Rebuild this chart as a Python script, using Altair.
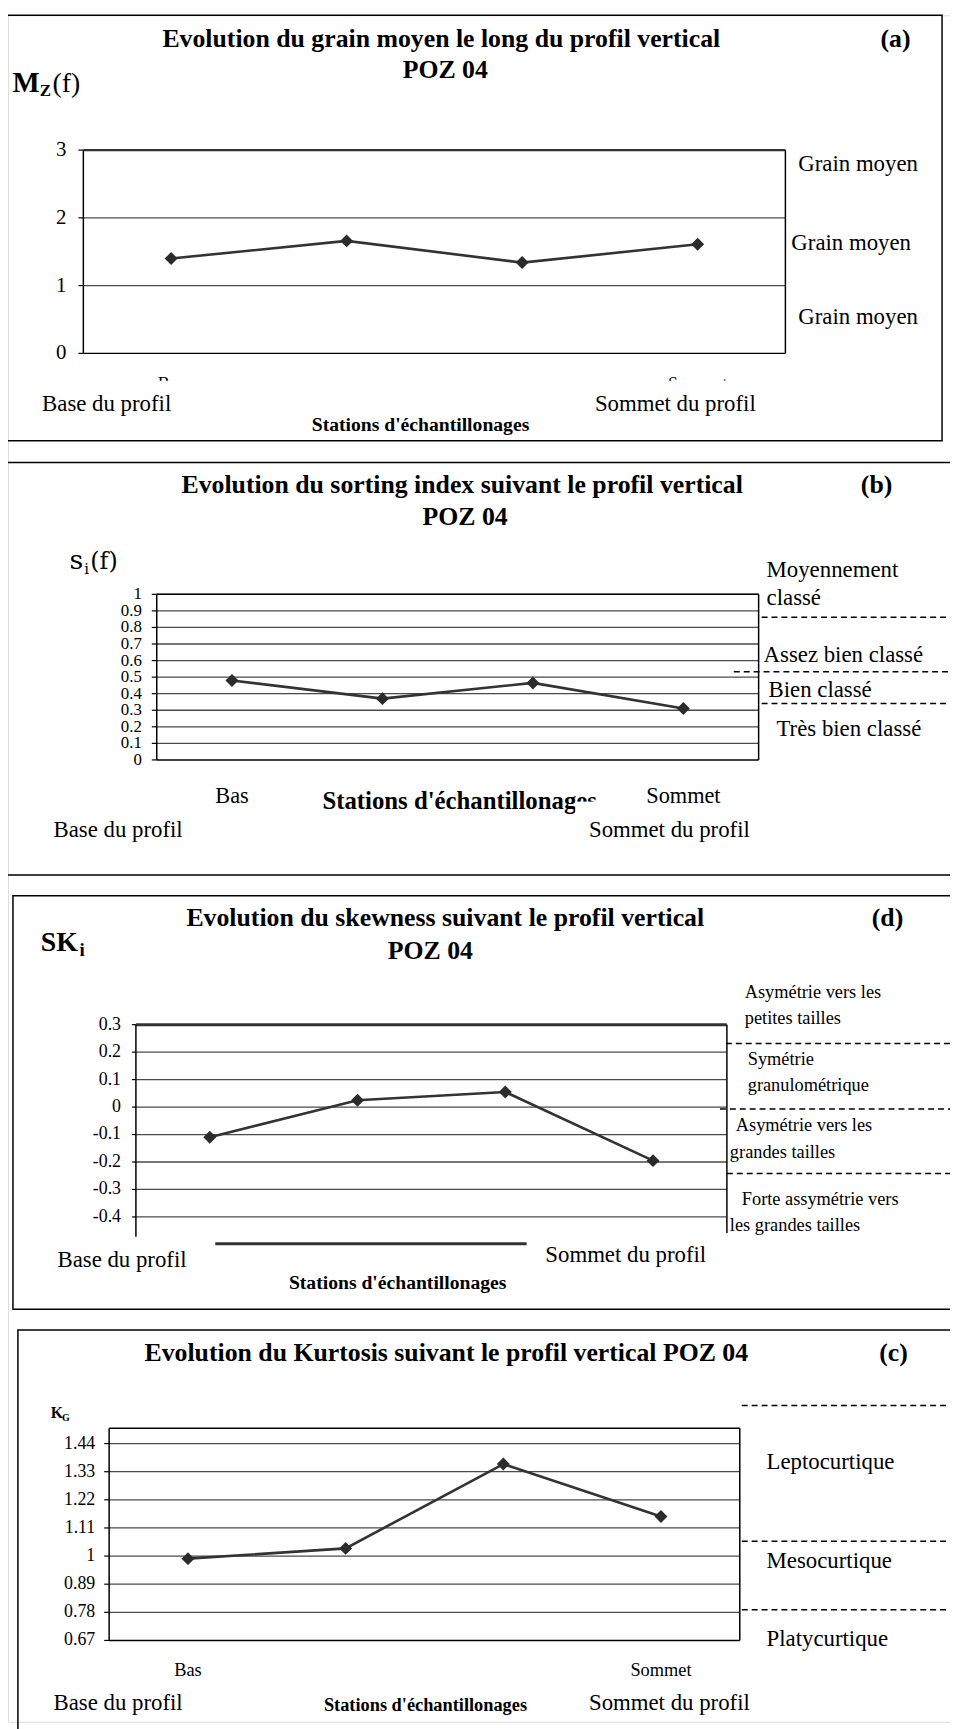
import altair as alt
import pandas as pd

# ---------------- data ----------------
stations = ["Bas", "S2", "S3", "Sommet"]
station_pos = [1, 2, 3, 4]

mz_values = [1.40, 1.66, 1.34, 1.61]          # (a) grain moyen Mz
si_values = [0.48, 0.37, 0.465, 0.31]         # (b) sorting index
sk_values = [-0.11, 0.025, 0.055, -0.195]     # (d) skewness
kg_values = [0.99, 1.03, 1.36, 1.155]         # (c) kurtosis

a_ticks = [0, 1, 2, 3]
a_tick_labels = ["0", "1", "2", "3"]
b_ticks = [0, 0.1, 0.2, 0.3, 0.4, 0.5, 0.6, 0.7, 0.8, 0.9, 1.0]
b_tick_labels = ["0", "0.1", "0.2", "0.3", "0.4", "0.5", "0.6", "0.7", "0.8", "0.9", "1"]
d_ticks = [0.3, 0.2, 0.1, 0, -0.1, -0.2, -0.3, -0.4]
d_tick_labels = ["0.3", "0.2", "0.1", "0", "-0.1", "-0.2", "-0.3", "-0.4"]
c_ticks = [0.67, 0.78, 0.89, 1.0, 1.11, 1.22, 1.33, 1.44]
c_tick_labels = ["0.67", "0.78", "0.89", "1", "1.11", "1.22", "1.33", "1.44"]

# ---------------- helpers ----------------
OX, OY = 8, 8
FONT = "Liberation Serif"
MATH = "DejaVu Serif"
GRID = "#4a4a4a"
T = 26      # panel titles
R = 23      # regular annotation text


def px(x):
    return x - OX


def py(y):
    return y - OY


one = pd.DataFrame({"k": [0]})
layers = []


def text(s, x, y, size, bold=False, align="center", baseline="middle", font=FONT):
    layers.append(
        alt.Chart(one)
        .mark_text(font=font, fontSize=size, fontWeight="bold" if bold else "normal",
                   align=align, baseline=baseline, color="black")
        .encode(x=alt.value(px(x)), y=alt.value(py(y)), text=alt.value(s))
    )


def hline(x1, x2, y, color="black", width=1.5, dash=None):
    kw = dict(color=color, strokeWidth=width)
    if dash:
        kw["strokeDash"] = dash
    layers.append(
        alt.Chart(one).mark_rule(**kw)
        .encode(x=alt.value(px(x1)), x2=alt.value(px(x2)), y=alt.value(py(y)))
    )


def vline(x, y1, y2, color="black", width=1.5):
    layers.append(
        alt.Chart(one).mark_rule(color=color, strokeWidth=width)
        .encode(x=alt.value(px(x)), y=alt.value(py(y1)), y2=alt.value(py(y2)))
    )


def box(x1, y1, x2, y2, fill=None, stroke="black", width=1.5):
    kw = dict(strokeWidth=width)
    if fill:
        kw["fill"] = fill
        kw["strokeWidth"] = 0
    else:
        kw["fillOpacity"] = 0
        kw["stroke"] = stroke
    layers.append(
        alt.Chart(one).mark_rect(**kw)
        .encode(x=alt.value(px(x1)), x2=alt.value(px(x2)),
                y=alt.value(py(y1)), y2=alt.value(py(y2)))
    )


def data_panel(values, domain, xr, yr, ticks, tick_labels, tick_x, tick_size,
               grid_from, tick_len=5, station_y=None, station_size=20):
    xs = alt.Scale(domain=[0.5, 4.5], range=[px(xr[0]), px(xr[1])], nice=False, zero=False)
    ys = alt.Scale(domain=domain, range=[py(yr[0]), py(yr[1])], nice=False, zero=False)
    tdf = pd.DataFrame({"v": ticks, "lab": tick_labels})
    gdf = tdf[[v in grid_from for v in ticks]]
    layers.append(
        alt.Chart(gdf).mark_rule(color=GRID, strokeWidth=1.3)
        .encode(y=alt.Y("v:Q", scale=ys, axis=None),
                x=alt.value(px(xr[0])), x2=alt.value(px(xr[1])))
    )
    layers.append(
        alt.Chart(tdf).mark_rule(color="black", strokeWidth=1.2)
        .encode(y=alt.Y("v:Q", scale=ys, axis=None),
                x=alt.value(px(xr[0] - tick_len)), x2=alt.value(px(xr[0])))
    )
    layers.append(
        alt.Chart(tdf).mark_text(font=FONT, fontSize=tick_size, align="right",
                                 baseline="middle", color="black")
        .encode(y=alt.Y("v:Q", scale=ys, axis=None), x=alt.value(px(tick_x)),
                text="lab:N")
    )
    df = pd.DataFrame({"pos": station_pos, "station": stations, "val": values})
    layers.append(
        alt.Chart(df).mark_line(color="#333333", strokeWidth=2.6)
        .encode(x=alt.X("pos:Q", scale=xs, axis=None),
                y=alt.Y("val:Q", scale=ys, axis=None), order="pos:Q")
    )
    layers.append(
        alt.Chart(df).mark_point(shape="diamond", filled=True, size=170,
                                 color="#2b2b2b", opacity=1)
        .encode(x=alt.X("pos:Q", scale=xs, axis=None),
                y=alt.Y("val:Q", scale=ys, axis=None))
    )
    if station_y is not None:
        ends = df[df["station"].isin(["Bas", "Sommet"])]
        layers.append(
            alt.Chart(ends).mark_text(font=FONT, fontSize=station_size,
                                      align="center", baseline="middle", color="black")
            .encode(x=alt.X("pos:Q", scale=xs, axis=None), y=alt.value(py(station_y)),
                    text="station:N")
        )


# ================= Panel (a) =================
box(7, 8, 950, 437)
text("Evolution du grain moyen le long du profil vertical", 445, 32, T, bold=True)
text("POZ 04", 449, 63, T, bold=True)
text("(a)", 903, 32, T, bold=True)
text("M", 12.5, 85, 29, bold=True, align="left", baseline="alphabetic")
text("Z", 40, 89.5, 17, bold=True, align="left", baseline="alphabetic")
text("(f)", 53, 85, 28, align="left", baseline="alphabetic")
data_panel(mz_values, [0, 3], (84, 792), (349, 144), a_ticks, a_tick_labels,
           67, 21, grid_from=[1, 2], station_y=381, station_size=18)
hline(84, 792, 144, color="#333333", width=2.2)
vline(792, 144, 349)
vline(84, 144, 349)
hline(84, 792, 349)
box(130, 376.5, 770, 391, fill="white")
text("Base du profil", 107.5, 400, R)
text("Sommet du profil", 681, 400, R)
text("Stations d'échantillonages", 424, 421, 19.8, bold=True)
text("Grain moyen", 805, 158, R, align="left")
text("Grain moyen", 798, 238, R, align="left")
text("Grain moyen", 805, 312, R, align="left")

# ================= Panel (b) =================
box(7, 459, 962, 875)
text("Evolution du sorting index suivant le profil vertical", 466, 482, T, bold=True)
text("POZ 04", 469, 514, T, bold=True)
text("(b)", 884, 482, T, bold=True)
text("s", 70, 566, 27, align="left", baseline="alphabetic", font=MATH)
text("i", 85, 571, 15, align="left", baseline="alphabetic", font=MATH)
text("(f)", 91, 566, 24, align="left", baseline="alphabetic", font=MATH)
data_panel(si_values, [0, 1], (158, 765), (759, 592), b_ticks, b_tick_labels,
           143, 17, grid_from=b_ticks[1:], station_y=795, station_size=22.5)
vline(158, 592, 759)
vline(765, 592, 759)
hline(158, 765, 592)
hline(158, 765, 759)
text("Stations d'échantillonages", 463.5, 808, 25, bold=True, baseline="alphabetic")
box(580, 801, 608, 818, fill="white")
text("Base du profil", 119, 830, R)
text("Sommet du profil", 675, 830, R)
text("Moyennement", 773, 568, R, align="left")
text("classé", 773, 596, R, align="left")
text("Assez bien classé", 770, 653, R, align="left")
text("Bien classé", 775, 689, R, align="left")
text("Très bien classé", 783, 728, R, align="left")
hline(768, 960, 615, width=1.5, dash=[6, 4])
hline(740, 960, 670, width=1.5, dash=[6, 4])
hline(768, 960, 702, width=1.5, dash=[6, 4])

# ================= Panel (d) =================
box(13, 896, 962, 1313)
text("Evolution du skewness suivant le profil vertical", 449, 918, T, bold=True)
text("POZ 04", 434, 952, T, bold=True)
text("(d)", 895, 918, T, bold=True)
text("SK", 41, 951.5, 28, bold=True, align="left", baseline="alphabetic")
text("i", 80, 957, 19, bold=True, align="left", baseline="alphabetic")
data_panel(sk_values, [-0.5, 0.3], (137, 733), (1247.6, 1026), d_ticks, d_tick_labels,
           122, 18, grid_from=d_ticks[1:], tick_len=4)
hline(137, 733, 1026, color="#333333", width=3)
vline(137, 1026, 1240)
vline(733, 1026, 1236)
hline(217, 531, 1247, color="#333333", width=3)
text("Base du profil", 123, 1263, R)
text("Sommet du profil", 631, 1258, R)
text("Stations d'échantillonages", 401, 1287, 19.8, bold=True)
S = 18.5
text("Asymétrie vers les", 751, 993, S, align="left")
text("petites tailles", 751, 1019, S, align="left")
text("Symétrie", 754, 1061, S, align="left")
text("granulométrique", 754, 1087, S, align="left")
text("Asymétrie vers les", 742, 1127, S, align="left")
text("grandes tailles", 736, 1154, S, align="left")
text("Forte assymétrie vers", 748, 1202, S, align="left")
text("les grandes tailles", 736, 1228, S, align="left")
hline(732, 960, 1045, width=1.5, dash=[6, 4])
hline(726, 960, 1111, width=1.5, dash=[6, 4])
hline(733, 960, 1176, width=1.5, dash=[6, 4])

# ================= Panel (c) =================
box(18, 1334, 962, 1745)
text("Evolution du Kurtosis suivant le profil vertical POZ 04", 450, 1357, T, bold=True)
text("(c)", 901, 1357, T, bold=True)
text("K", 51, 1423, 16, bold=True, align="left", baseline="alphabetic")
text("G", 62.5, 1426, 10, bold=True, align="left", baseline="alphabetic")
data_panel(kg_values, [0.67, 1.5], (110, 746), (1647, 1433), c_ticks, c_tick_labels,
           96, 18, grid_from=c_ticks[1:], station_y=1677, station_size=18.5)
vline(110, 1433, 1647)
vline(746, 1433, 1647)
hline(110, 746, 1433)
hline(110, 746, 1647)
text("Base du profil", 119, 1710, R)
text("Stations d'échantillonages", 429, 1712, 18.5, bold=True)
text("Sommet du profil", 675, 1710, R)
text("Leptocurtique", 773, 1467, R, align="left")
text("Mesocurtique", 773, 1567, R, align="left")
text("Platycurtique", 773, 1646, R, align="left")
hline(748, 960, 1410, width=1.5, dash=[6, 4])
hline(748, 960, 1547, width=1.5, dash=[6, 4])
hline(748, 960, 1616, width=1.5, dash=[6, 4])

chart = (
    alt.layer(*layers)
    .resolve_scale(x="independent", y="independent")
    .properties(width=950, height=1721, autosize=alt.AutoSizeParams(type="none"), padding=0)
    .configure_view(stroke=None)
    .configure(background="white")
)

chart.save("out.html", embed_options={"renderer": "svg", "actions": False})
